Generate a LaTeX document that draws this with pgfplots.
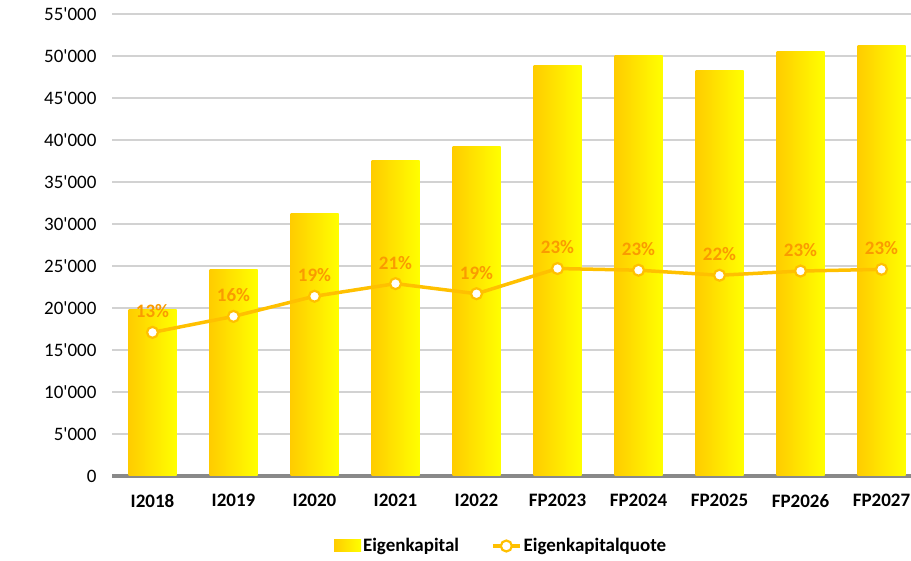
\documentclass[border=0pt]{standalone}
\usepackage{pgfplots}
\pgfplotsset{compat=1.18}
\usepackage{pgfplotstable}
\usepackage{fontspec}
\setmainfont{Carlito}[Ligatures=TeXOff]

\definecolor{gold}{RGB}{255,192,0}
\definecolor{barlo}{RGB}{255,204,0}
\definecolor{barhi}{RGB}{255,255,0}
\definecolor{lblorange}{RGB}{250,155,0}
\definecolor{gridgray}{RGB}{210,210,210}
\definecolor{axgray}{RGB}{137,137,137}

\pgfplotstableread{
x y lbl
0 17100 13
1 19000 16
2 21400 19
3 22900 21
4 21700 19
5 24700 23
6 24500 23
7 23900 22
8 24400 23
9 24600 23
}\quote

\pgfplotsset{
  quotelegend/.style={legend image code/.code={\draw[mark repeat=2, mark phase=2, ##1] plot coordinates {(0pt,0pt) (13.5pt,0pt) (27pt,0pt)};}},
  barlegend/.style={legend image code/.code={\fill[left color=barlo, right color=barhi] (0pt,-6pt) rectangle (27pt,6pt);}},
  gbar/.style={ybar, bar width=48pt, draw=none, left color=barlo, right color=barhi, barlegend},
}

\begin{document}
\begin{tikzpicture}[font=\fontsize{19}{22}\selectfont]
\path[use as bounding box] (0,0) rectangle (911pt,560pt);
\begin{axis}[
  at={(112pt,84pt)}, anchor=south west,
  scale only axis, width=799pt, height=462pt,
  xmin=-0.5, xmax=9.364, ymin=0, ymax=55000,
  xtick={0,...,9},
  xticklabels={I2018,I2019,I2020,I2021,I2022,FP2023,FP2024,FP2025,FP2026,FP2027},
  xticklabel style={font=\fontsize{19}{22}\selectfont\bfseries, yshift=-15pt},
  ytick={0,5000,...,55000},
  yticklabel style={font=\fontsize{19}{22}\selectfont, xshift=-12pt},
  /pgf/number format/1000 sep={'},
  /pgf/number format/assume math mode=true,
  scaled y ticks=false,
  ymajorgrids, grid style={gridgray, line width=1.5pt},
  major tick length=0pt,
  axis lines*=left,
  y axis line style={draw=none},
  x axis line style={draw=axgray, line width=3.5pt},
  clip=false,
  legend style={at={(axis description cs:0.487,-0.1515)}, anchor=center, draw=none,
    font=\fontsize{19}{22}\selectfont\bfseries,
    /tikz/every even column/.append style={column sep=30pt}},
  legend columns=2,
  legend cell align=left,
]
\addplot[gbar] coordinates {(0,19800)};
\addlegendentry{Eigenkapital}
\addplot[gbar, forget plot] coordinates {(1,24600)};
\addplot[gbar, forget plot] coordinates {(2,31200)};
\addplot[gbar, forget plot] coordinates {(3,37500)};
\addplot[gbar, forget plot] coordinates {(4,39200)};
\addplot[gbar, forget plot] coordinates {(5,48900)};
\addplot[gbar, forget plot] coordinates {(6,50000)};
\addplot[gbar, forget plot] coordinates {(7,48300)};
\addplot[gbar, forget plot] coordinates {(8,50500)};
\addplot[gbar, forget plot] coordinates {(9,51300)};
\addplot[gold, line width=3.5pt, mark=*, mark size=5.5pt,
  mark options={fill=white, draw=gold, line width=2.2pt},
  point meta=explicit symbolic,
  nodes near coords={\bfseries\fontsize{19}{22}\selectfont\pgfplotspointmeta\%},
  every node near coord/.append style={text=lblorange, anchor=center, yshift=21pt},
  quotelegend]
  table[x=x, y=y, meta=lbl]{\quote};
\addlegendentry{Eigenkapitalquote}
\end{axis}
\end{tikzpicture}
\end{document}
